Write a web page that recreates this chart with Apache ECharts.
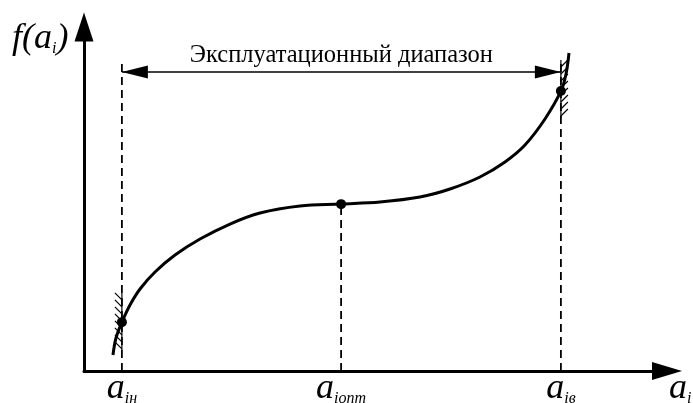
<!DOCTYPE html>
<html>
<head>
<meta charset="utf-8">
<script src="https://cdn.jsdelivr.net/npm/echarts@6/dist/echarts.min.js"></script>
<style>
  html, body { margin: 0; padding: 0; background: #fff; }
  #chart { width: 693px; height: 403px; }
</style>
</head>
<body>
<div id="chart"></div>
<script>
// Characteristic values of the parameter a_i and of f(a_i)
const aLow = 6.5, aOpt = 44.1, aHigh = 81.8;
const fLow = 14.2, fOpt = 48.5, fHigh = 81.4;
const rangeLevel = 86.9;   // level of the operating range arrow
const guideTop = 89.8;     // upper end of the boundary guides

const tickValues = [aLow, aOpt, aHigh];
const tickLabels = ['{a|a}{s|iн}', '{a|a}{s|iопт}', '{a|a}{s|iв}'];
const rangeTitle = 'Эксплуатационный диапазон';

// Sampled f(a_i) curve
const curveX = [4.97, 5.49, 6.52, 7.89, 9.61, 12.18, 15.61, 19.90, 25.04, 30.19, 37.05, 44.08,
                50.77, 57.63, 62.78, 67.92, 72.21, 75.64, 79.07, 81.82, 82.68, 83.19];
const curveY = [4.65, 9.59, 14.24, 19.19, 23.84, 28.78, 33.72, 38.37, 42.73, 45.93, 47.97, 48.55,
                49.13, 50.58, 52.91, 56.40, 60.76, 65.70, 73.26, 81.40, 86.34, 92.44];

// Hatched boundary constraints: position and vertical extent
const limitX = [aLow, aHigh];
const limitFrom = [6.1, 73.5];
const limitTo = [22.7, 90.4];

const serif = 'Liberation Serif, Times New Roman, serif';
const richText = {
  a: { fontFamily: serif, fontStyle: 'italic', fontSize: 36, color: '#000', lineHeight: 30, verticalAlign: 'bottom' },
  s: { fontFamily: serif, fontStyle: 'italic', fontSize: 16, color: '#000', lineHeight: 10, verticalAlign: 'bottom' }
};

const chart = echarts.init(document.getElementById('chart'), null, { renderer: 'canvas' });

function guide(x, top) {
  return {
    type: 'line',
    data: [[x, 0], [x, top]],
    symbol: 'none',
    silent: true,
    lineStyle: { color: '#000', width: 1.8, type: [8, 5] },
    z: 1
  };
}

const option = {
  animation: false,
  backgroundColor: '#fff',
  grid: { left: 84, right: 26, top: 27, bottom: 32, outerBoundsMode: 'none' },
  xAxis: {
    type: 'value', min: 0, max: 100,
    splitLine: { show: false },
    axisTick: { show: false },
    axisLine: {
      lineStyle: { color: '#000', width: 3 },
      symbol: ['none', 'triangle'], symbolSize: [18, 30]
    },
    axisLabel: {
      customValues: tickValues,
      margin: 6,
      formatter: v => tickLabels[tickValues.indexOf(v)],
      rich: richText
    }
  },
  yAxis: {
    type: 'value', min: 0, max: 100,
    splitLine: { show: false },
    axisTick: { show: false },
    axisLabel: { show: false },
    axisLine: {
      lineStyle: { color: '#000', width: 3 },
      symbol: ['none', 'triangle'], symbolSize: [19, 29]
    }
  },
  graphic: [
    { type: 'text', left: 12, top: 21, style: { text: '{a|f(a}{s|i}{a|)}', rich: richText } },
    { type: 'text', left: 669, top: 371, style: { text: '{a|a}{s|i}', rich: richText } }
  ],
  series: [
    guide(aLow, guideTop),
    guide(aOpt, fOpt),
    guide(aHigh, guideTop),
    {
      type: 'custom',
      silent: true,
      data: limitX.map((x, i) => [x, limitFrom[i], limitTo[i], i === 0 ? -1 : 1]),
      encode: { x: 0, y: [1, 2] },
      renderItem(params, api) {
        const x = api.value(0), side = api.value(3);
        const p0 = api.coord([x, api.value(1)]);
        const p1 = api.coord([x, api.value(2)]);
        const stroke = { stroke: '#000', lineWidth: 1.2 };
        const children = [{ type: 'line', shape: { x1: p0[0], y1: p0[1], x2: p1[0], y2: p1[1] }, style: stroke }];
        const yTop = Math.min(p0[1], p1[1]), yBot = Math.max(p0[1], p1[1]);
        for (let y = yTop + 7; y <= yBot; y += 7) {
          children.push({ type: 'line', shape: { x1: p0[0], y1: y, x2: p0[0] + side * 7, y2: y - 7 }, style: stroke });
        }
        return { type: 'group', children };
      },
      z: 2
    },
    {
      type: 'line',
      data: curveX.map((x, i) => [x, curveY[i]]),
      smooth: 0.35,
      symbol: 'none',
      silent: true,
      lineStyle: { color: '#000', width: 3 },
      z: 3,
      markLine: {
        silent: true,
        symbol: ['triangle', 'triangle'],
        symbolSize: [13, 26],
        symbolOffset: [[0, '50%'], [0, '50%']],
        lineStyle: { color: '#000', width: 1.5, type: 'solid' },
        label: {
          show: true,
          position: 'insideMiddleTop',
          distance: 4,
          formatter: rangeTitle,
          fontFamily: serif,
          fontSize: 24.5,
          color: '#000'
        },
        data: [[{ coord: [aLow, rangeLevel] }, { coord: [aHigh, rangeLevel] }]]
      }
    },
    {
      type: 'scatter',
      data: [[aLow, fLow], [aOpt, fOpt], [aHigh, fHigh]],
      symbol: 'circle',
      symbolSize: 10,
      silent: true,
      itemStyle: { color: '#000', opacity: 1 },
      z: 4
    }
  ]
};

chart.setOption(option);
</script>
</body>
</html>
